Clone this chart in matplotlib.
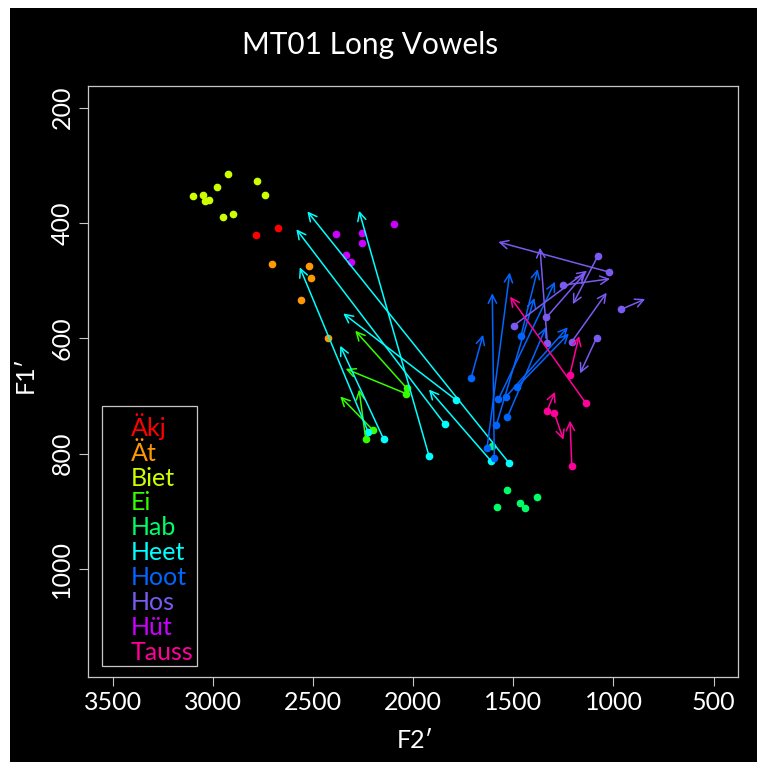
import numpy as np
import matplotlib.pyplot as plt
from matplotlib.patches import Rectangle

plt.rcParams['font.family'] = ['Lato', 'DejaVu Sans']

# названия гласных и цвета (порядок легенды)
vowels = ['Äkj', 'Ät', 'Biet', 'Ei', 'Hab', 'Heet', 'Hoot', 'Hos', 'Hüt', 'Tauss']
colours = ['#FF0000', '#FF9900', '#CCFF00', '#33FF00', '#00FF66', '#00FFFF',
           '#0066FF', '#7A5AF0', '#CC00FF', '#FF0099']

# монофтонги: одна точка (F2', F1')
akj_f2 = [2783, 2676]
akj_f1 = [421, 408]
at_f2 = [2703, 2518, 2509, 2558, 2427]
at_f1 = [472, 475, 496, 533, 600]
biet_f2 = [2923, 2780, 3098, 3048, 2978, 3039, 3021, 2738, 2951, 2898]
biet_f1 = [316, 327, 353, 351, 337, 362, 361, 352, 390, 384]
hab_f2 = [1605, 1530, 1380, 1580, 1467, 1442]
hab_f1 = [787, 863, 875, 892, 885, 895]
hut_f2 = [2384, 2257, 2257, 2097, 2337, 2309]
hut_f1 = [420, 417, 434, 402, 456, 468]

# дифтонги: начало (точка) -> конец (стрелка)
ei_f2_on = [2031, 2036, 2199, 2237]
ei_f1_on = [687, 696, 760, 774]
ei_f2_off = [2289, 2337, 2364, 2270]
ei_f1_off = [587, 653, 701, 689]

heet_f2_on = [1522, 1921, 1842, 2224, 2147, 1786, 1611]
heet_f1_on = [816, 804, 749, 763, 775, 707, 813]
heet_f2_off = [2528, 2270, 2583, 2566, 2364, 2349, 1921]
heet_f1_off = [380, 379, 411, 477, 613, 557, 689]

hoot_f2_on = [1711, 1595, 1631, 1462, 1585, 1575, 1530, 1538, 1480]
hoot_f1_on = [669, 808, 790, 596, 751, 706, 737, 702, 684]
hoot_f2_off = [1651, 1605, 1518, 1378, 1395, 1292, 1337, 1228, 1223]
hoot_f1_off = [594, 522, 486, 480, 530, 502, 581, 581, 592]

hos_f2_on = [1024, 1330, 1498, 1252, 1079, 1335, 1208, 1084, 962]
hos_f1_on = [485, 609, 578, 508, 458, 564, 606, 599, 550]
hos_f2_off = [1575, 1367, 1132, 1017, 1203, 1142, 1034, 1167, 842]
hos_f1_off = [433, 443, 483, 497, 541, 487, 521, 661, 532]

tauss_f2_on = [1218, 1139, 1333, 1295, 1208]
tauss_f1_on = [664, 712, 727, 730, 822]
tauss_f2_off = [1172, 1516, 1292, 1250, 1217]
tauss_f1_off = [596, 528, 693, 776, 743]

x_ticks = [3500, 3000, 2500, 2000, 1500, 1000, 500]
y_ticks = [200, 400, 600, 800, 1000]

W, H = 766, 769
grey = '#C8C8C8'


def draw_points(ax, f2, f1, colour):
    ax.plot(f2, f1, 'o', ms=4.5, mfc=colour, mec=colour, ls='none')


def draw_arrows(ax, f2_on, f1_on, f2_off, f1_off, colour):
    draw_points(ax, f2_on, f1_on, colour)
    for x0, y0, x1, y1 in zip(f2_on, f1_on, f2_off, f1_off):
        ax.annotate('', xy=(x1, y1), xytext=(x0, y0),
                    arrowprops=dict(arrowstyle='->,head_length=0.6,head_width=0.3',
                                    color=colour, lw=1.1, shrinkA=0, shrinkB=0))


fig = plt.figure(figsize=(W / 100, H / 100), dpi=100, facecolor='white')
fig.patches.append(Rectangle((10 / W, 1 - 762 / H), (757 - 10) / W, (762 - 8) / H,
                             transform=fig.transFigure, facecolor='black',
                             edgecolor='none', zorder=-10))

left, right, top, bottom = 88, 737.7, 85.7, 676.7
ax = fig.add_axes([left / W, 1 - bottom / H, (right - left) / W, (bottom - top) / H],
                  facecolor='black')

draw_points(ax, akj_f2, akj_f1, colours[0])
draw_points(ax, at_f2, at_f1, colours[1])
draw_points(ax, biet_f2, biet_f1, colours[2])
draw_arrows(ax, ei_f2_on, ei_f1_on, ei_f2_off, ei_f1_off, colours[3])
draw_points(ax, hab_f2, hab_f1, colours[4])
draw_arrows(ax, heet_f2_on, heet_f1_on, heet_f2_off, heet_f1_off, colours[5])
draw_arrows(ax, hoot_f2_on, hoot_f1_on, hoot_f2_off, hoot_f1_off, colours[6])
draw_arrows(ax, hos_f2_on, hos_f1_on, hos_f2_off, hos_f1_off, colours[7])
draw_points(ax, hut_f2, hut_f1, colours[8])
draw_arrows(ax, tauss_f2_on, tauss_f1_on, tauss_f2_off, tauss_f1_off, colours[9])

ax.set_xlim(3623, 380)
ax.set_ylim(1187, 162)
ax.set_xticks(x_ticks)
ax.set_yticks(y_ticks)
ax.tick_params(colors=grey, labelcolor='white', labelsize=18, length=6.5, width=0.8, pad=4)
for lbl in ax.get_yticklabels():
    lbl.set_rotation(90)
    lbl.set_va('center')
for sp in ax.spines.values():
    sp.set_color(grey)
    sp.set_linewidth(0.9)


def ax_frac(x, y):
    return (x - left) / (right - left), (bottom - y) / (bottom - top)


# легенда вручную
lx0, ly0 = ax_frac(101.7, 665.7)
lx1, ly1 = ax_frac(196.7, 405.7)
ax.add_patch(Rectangle((lx0, ly0), lx1 - lx0, ly1 - ly0, transform=ax.transAxes,
                       facecolor='none', edgecolor=grey, lw=0.9))
for i, (name, c) in enumerate(zip(vowels, colours)):
    tx, ty = ax_frac(130.7, 435.7 + i * 24.9)
    ax.text(tx, ty, name, color=c, fontsize=18, transform=ax.transAxes,
            ha='left', va='baseline')

fig.text(370 / W, 1 - 45 / H, 'MT01 Long Vowels', color='white', fontsize=21.5,
         ha='center', va='center')
fig.text(415 / W, 1 - 741 / H, 'F2\u2032', color='white', fontsize=18,
         ha='center', va='center')
fig.text(25 / W, 1 - 375 / H, 'F1\u2032', color='white', fontsize=18,
         ha='center', va='center', rotation=90)

fig.savefig('out.png', dpi=100, facecolor='white')
